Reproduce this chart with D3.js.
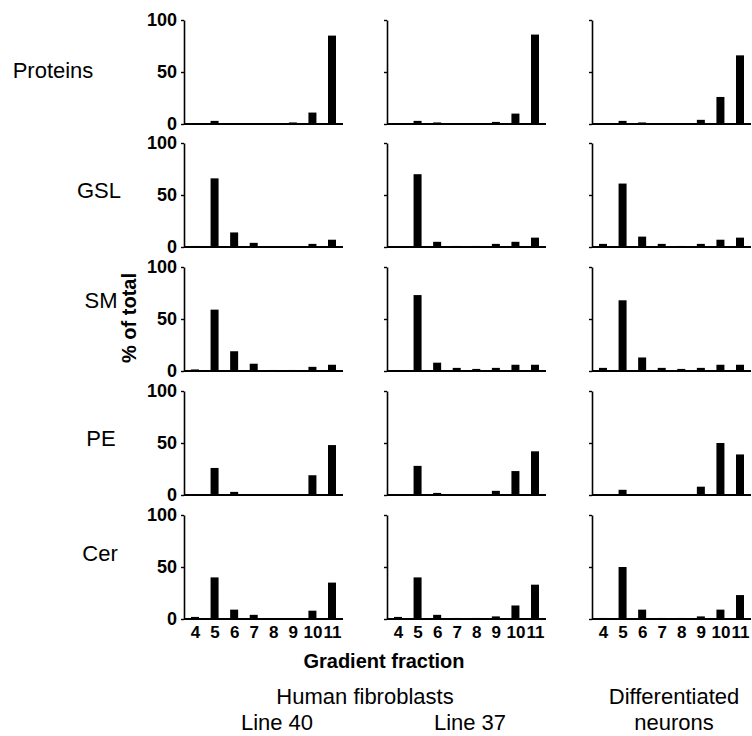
<!DOCTYPE html>
<html><head><meta charset="utf-8">
<script src="https://cdn.jsdelivr.net/npm/d3@7"></script>
<style>body{margin:0;background:#fff}svg{display:block}</style>
</head><body>
<svg id="chart" width="752" height="736"></svg>
<script>
// ---- data ----
const fractions = [4, 5, 6, 7, 8, 9, 10, 11];
const lipids = ["Proteins", "GSL", "SM", "PE", "Cer"];
const yTicks = [0, 50, 100];
// % of total per fraction, rows follow `lipids`
const line40 = [
  [0, 3, 0, 0, 0, 1.5, 11, 85],
  [1, 66, 14, 4, 0, 0, 3, 7],
  [1.5, 59, 19, 7, 1, 1, 4, 6],
  [0, 26, 3, 0, 0, 0, 19, 48],
  [2, 40, 9, 4, 0, 0, 8, 35]
];
const line37 = [
  [0, 3, 1.5, 0, 0, 2, 10, 86],
  [0, 70, 5, 1, 1, 3, 5, 9],
  [0, 73, 8, 3, 2, 3, 6, 6],
  [0, 28, 2, 0, 0, 4, 23, 42],
  [2, 40, 4, 1, 1, 2.5, 13, 33]
];
const neurons = [
  [0, 3, 1.5, 0, 0, 4, 26, 66],
  [3, 61, 10, 3, 1, 3, 7, 9],
  [3, 68, 13, 3, 2, 3, 6, 6],
  [0, 5, 0, 0, 0, 8, 50, 39],
  [1, 50, 9, 1, 1, 2.5, 9, 23]
];
const columns = [line40, line37, neurons];

// ---- layout ----
const colAxisX = [184, 387, 592];
const rowTop = [20, 143, 267, 391, 515];
const panelH = 104;
const rowLabelPos = [[53, 78], [99, 198], [101, 308], [101, 446], [100, 561]];

const svg = d3.select("#chart");
const font = "Liberation Sans, Arial, sans-serif";

lipids.forEach((name, r) => {
  const top = rowTop[r];
  const y = d3.scaleLinear().domain([0, 100]).range([top + panelH, top]);
  svg.append("text").attr("x", rowLabelPos[r][0]).attr("y", rowLabelPos[r][1])
    .attr("text-anchor", "middle").attr("font-family", font).attr("font-size", 22)
    .text(name);
  columns.forEach((col, c) => {
    const ax = colAxisX[c];
    const x = d3.scaleLinear().domain([4, 11]).range([ax + 11, ax + 148]);
    const g = svg.append("g");
    const yAxis = d3.axisLeft(y).tickValues(yTicks).tickSize(3).tickSizeOuter(0)
      .tickFormat(c === 0 ? d3.format("d") : () => "");
    const ga = g.append("g").attr("transform", `translate(${ax},0)`).call(yAxis);
    ga.select(".domain").attr("stroke", "#000").attr("stroke-width", 1.6);
    ga.selectAll(".tick line").attr("stroke-width", 1.4);
    ga.selectAll(".tick text").attr("font-family", font).attr("font-weight", "bold")
      .attr("font-size", 18).attr("fill", "#000").attr("dx", "-1");
    g.append("line").attr("x1", ax).attr("x2", ax + 159)
      .attr("y1", y(0)).attr("y2", y(0)).attr("stroke", "#000").attr("stroke-width", 1.8);
    g.selectAll("rect").data(col[r].map((v, i) => ({f: fractions[i], v})).filter(d => d.v > 0))
      .enter().append("rect")
      .attr("x", d => x(d.f) - 4).attr("width", 8)
      .attr("y", d => y(d.v)).attr("height", d => y(0) - y(d.v))
      .attr("fill", "#000");
    if (r === lipids.length - 1) {
      const xa = g.append("g").attr("transform", `translate(0,${y(0)})`)
        .call(d3.axisBottom(x).tickValues(fractions).tickSize(0).tickFormat(d3.format("d")));
      xa.select(".domain").remove();
      xa.selectAll(".tick text").attr("font-family", font).attr("font-weight", "bold")
        .attr("font-size", 17).attr("fill", "#000").attr("dy", "0.95em");
    }
  });
});

svg.append("text").attr("transform", "translate(136,318) rotate(-90)")
  .attr("text-anchor", "middle").attr("font-family", font).attr("font-weight", "bold")
  .attr("font-size", 20).text("% of total");
svg.append("text").attr("x", 384).attr("y", 668).attr("text-anchor", "middle")
  .attr("font-family", font).attr("font-weight", "bold").attr("font-size", 20)
  .text("Gradient fraction");
const bottom = [
  ["Human fibroblasts", 365, 704],
  ["Line 40", 277, 730],
  ["Line 37", 470, 730],
  ["Differentiated", 674, 704],
  ["neurons", 674, 730]
];
bottom.forEach(([t, bx, by]) => svg.append("text").attr("x", bx).attr("y", by)
  .attr("text-anchor", "middle").attr("font-family", font).attr("font-size", 22).text(t));
</script>
</body></html>
